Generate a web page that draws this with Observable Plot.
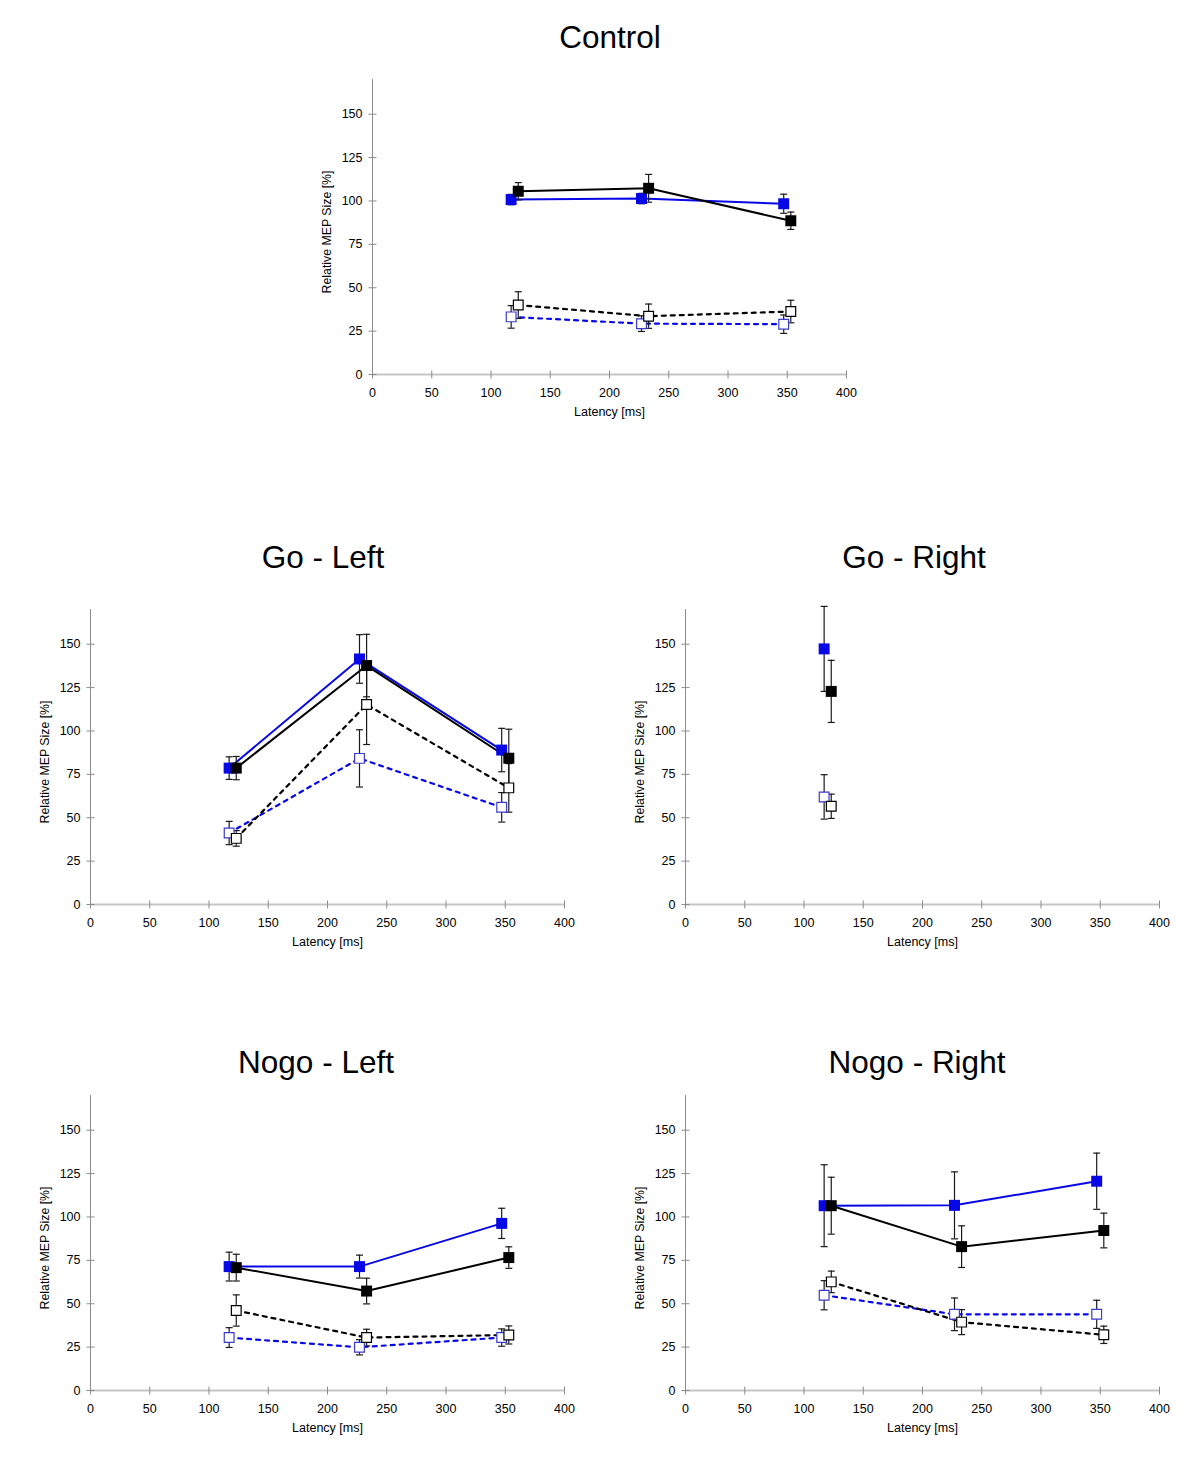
<!DOCTYPE html>
<html><head><meta charset="utf-8">
<script src="https://cdn.jsdelivr.net/npm/d3@7"></script>
<script src="https://cdn.jsdelivr.net/npm/@observablehq/plot@0.6"></script>
<style>
body{margin:0;background:#fff;}
#root{position:relative;width:1200px;height:1457px;background:#fff;font-family:"Liberation Sans",Arial,Helvetica,sans-serif;overflow:hidden;}
.title{position:absolute;width:400px;text-align:center;font-size:31.5px;line-height:36px;color:#000;}
.panel{position:absolute;}
</style></head><body><div id="root"></div>
<script>
// ---------- data ----------
const panelTitles = ["Control", "Go - Left", "Go - Right", "Nogo - Left", "Nogo - Right"];
const xLabel = "Latency [ms]";
const yLabel = "Relative MEP Size [%]";
const latencyBlue = [117, 227, 347];
const latencyBlack = [123, 233, 353];
const xTicks = [0, 50, 100, 150, 200, 250, 300, 350, 400];
const yTicks = [0, 25, 50, 75, 100, 125, 150];

// one row per panel (Control, Go-Left, Go-Right, Nogo-Left, Nogo-Right)
const blueFilledMean = [[100.8, 101.4, 98.4], [78.6, 141.5, 89.0], [147.3], [71.4, 71.4, 96.3], [106.5, 106.7, 120.6]];
const blueFilledErr  = [[3.0, 3.0, 5.5], [6.5, 14.0, 12.5], [24.5], [8.3, 6.6, 8.7], [23.6, 19.3, 16.2]];
const blackFilledMean = [[105.6, 107.3, 88.6], [78.6, 137.7, 84.3], [122.8], [70.8, 57.3, 76.6], [106.5, 82.9, 92.2]];
const blackFilledErr  = [[5.0, 8.0, 5.0], [6.7, 18.0, 16.7], [17.9], [7.7, 7.4, 6.2], [16.4, 12.0, 10.0]];
const blackOpenMean = [[40.0, 33.6, 36.3], [38.1, 115.2, 67.2], [56.6], [46.1, 30.5, 32.0], [62.6, 39.4, 32.1]];
const blackOpenErr  = [[7.7, 7.0, 6.5], [4.5, 23.0, 14.0], [7.0], [9.0, 4.8, 5.2], [6.2, 7.2, 5.0]];
const blueOpenMean = [[33.2, 29.3, 29.0], [41.2, 84.2, 56.0], [62.0], [30.5, 24.9, 30.5], [54.9, 43.9, 43.9]];
const blueOpenErr  = [[6.5, 4.5, 5.3], [6.7, 16.5, 8.5], [12.8], [5.7, 4.4, 5.0], [8.4, 9.4, 8.1]];

// ---------- layout ----------
const panelLeft = [312, 30, 625, 30, 625];
const panelTop = [64, 594, 594, 1080, 1080];
const titleCenterX = [610, 323, 914, 316, 917];
const titleCenterY = [37, 557, 557, 1062, 1062];

const BLUE = "#0808e6";
const BLUE_OPEN = "#3b3bcc";
const FONT = '"Liberation Sans", Arial, Helvetica, sans-serif';

const hTick = {draw(ctx, size) { const r = Math.sqrt(size / Math.PI); ctx.moveTo(-r, 0); ctx.lineTo(r, 0); }};
const vTick = {draw(ctx, size) { const r = Math.sqrt(size / Math.PI); ctx.moveTo(0, -r); ctx.lineTo(0, r); }};

const root = document.getElementById("root");

function rowsFor(p, key, means, errs, xs) {
  return means[p].map((m, i) => ({series: key, x: xs[i], y: m, lo: m - errs[p][i], hi: m + errs[p][i]}));
}

panelTitles.forEach((title, p) => {
  const bf = rowsFor(p, "bf", blueFilledMean, blueFilledErr, latencyBlue);
  const kf = rowsFor(p, "kf", blackFilledMean, blackFilledErr, latencyBlack);
  const ko = rowsFor(p, "ko", blackOpenMean, blackOpenErr, latencyBlack);
  const bo = rowsFor(p, "bo", blueOpenMean, blueOpenErr, latencyBlue);
  const all = [...bo, ...ko, ...bf, ...kf];

  const chart = Plot.plot({
    width: 554, height: 360,
    marginLeft: 60, marginRight: 20, marginTop: 15, marginBottom: 50,
    style: {fontFamily: FONT, fontSize: "12.5px", color: "#000", background: "#fff", overflow: "visible"},
    x: {domain: [0, 400], range: [60, 534]},
    y: {domain: [0, 170], range: [310, 15]},
    marks: [
      Plot.ruleX([0], {y1: 0, y2: 170, stroke: "#8c8c8c", strokeWidth: 1}),
      Plot.ruleY([0], {x1: 0, x2: 400, stroke: "#c6c6c6", strokeWidth: 2}),
      Plot.dot(xTicks, {x: d => d, y: 0, symbol: vTick, r: 4, stroke: "#8c8c8c", strokeWidth: 1}),
      Plot.dot(yTicks, {x: 0, y: d => d, symbol: hTick, r: 4, stroke: "#8c8c8c", strokeWidth: 1}),
      Plot.axisX({ticks: xTicks, tickSize: 0, tickPadding: 14, label: null, tickFormat: d => String(d)}),
      Plot.axisY({ticks: yTicks, tickSize: 0, tickPadding: 10, label: null, tickFormat: d => String(d)}),
      Plot.text([xLabel], {frameAnchor: "bottom", dy: 41, fontSize: 12.5, fill: "#000"}),
      Plot.text([yLabel], {frameAnchor: "left", textAnchor: "middle", dx: -45, dy: 5, rotate: -90, fontSize: 12.3, fill: "#000"}),
      Plot.line(bo, {x: "x", y: "y", stroke: BLUE, strokeWidth: 2.2, strokeDasharray: "4,5"}),
      Plot.line(ko, {x: "x", y: "y", stroke: "#000", strokeWidth: 2.2, strokeDasharray: "4,5"}),
      Plot.line(bf, {x: "x", y: "y", stroke: BLUE, strokeWidth: 2}),
      Plot.line(kf, {x: "x", y: "y", stroke: "#000", strokeWidth: 2}),
      Plot.ruleX(all, {x: "x", y1: "lo", y2: "hi", stroke: "#1a1a1a", strokeWidth: 1.2}),
      Plot.dot(all, {x: "x", y: "hi", symbol: hTick, r: 3.5, stroke: "#1a1a1a", strokeWidth: 1.2}),
      Plot.dot(all, {x: "x", y: "lo", symbol: hTick, r: 3.5, stroke: "#1a1a1a", strokeWidth: 1.2}),
      Plot.dot(bo, {x: "x", y: "y", symbol: "square", r: 5.5, fill: "#fff", stroke: BLUE_OPEN, strokeWidth: 1.2}),
      Plot.dot(ko, {x: "x", y: "y", symbol: "square", r: 5.5, fill: "#fff", stroke: "#000", strokeWidth: 1.2}),
      Plot.dot(bf, {x: "x", y: "y", symbol: "square", r: 6.2, fill: BLUE, stroke: "none"}),
      Plot.dot(kf, {x: "x", y: "y", symbol: "square", r: 6.2, fill: "#000", stroke: "none"})
    ]
  });
  chart.classList.add("panel");
  chart.style.left = panelLeft[p] + "px";
  chart.style.top = panelTop[p] + "px";
  root.appendChild(chart);

  const t = document.createElement("div");
  t.className = "title";
  t.textContent = title;
  t.style.left = (titleCenterX[p] - 200) + "px";
  t.style.top = (titleCenterY[p] - 18) + "px";
  root.appendChild(t);
});
</script>
</body></html>
